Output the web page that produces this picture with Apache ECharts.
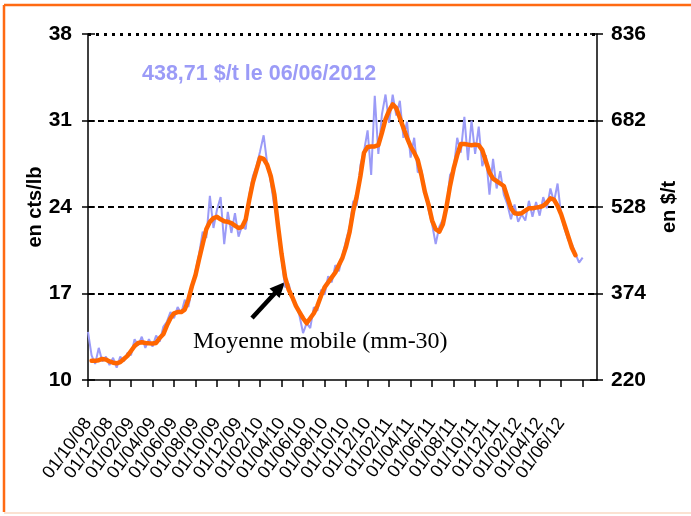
<!DOCTYPE html>
<html>
<head>
<meta charset="utf-8">
<script src="https://cdn.jsdelivr.net/npm/echarts@6/dist/echarts.min.js"></script>
<style>
html,body{margin:0;padding:0;background:#fff;}
#chart{width:691px;height:516px;}
</style>
</head>
<body>
<div id="chart"></div>
<script>
// ---- data ----
const tickLabels = ['01/10/08','01/12/08','01/02/09','01/04/09','01/06/09','01/08/09','01/10/09','01/12/09',
  '01/02/10','01/04/10','01/06/10','01/08/10','01/10/10','01/12/10','01/02/11','01/04/11','01/06/11',
  '01/08/11','01/10/11','01/12/11','01/02/12','01/04/12','01/06/12'];
const pointsPerLabel = 6;
const axisPointCount = 143;

// daily price (cts/lb), sampled
const price = [13.9,12.0,11.3,12.6,11.5,11.9,11.2,11.8,11.0,11.9,
  11.5,12.2,12.0,13.3,12.8,13.5,12.6,13.3,12.7,13.6,
  13.1,14.3,14.7,15.5,15.0,15.9,15.4,16.5,15.9,17.4,
  18.8,20.2,22.0,21.5,24.9,22.3,23.8,24.8,21.0,23.6,
  21.9,23.5,21.6,22.5,22.2,25.0,26.5,27.3,28.5,29.8,
  27.5,26.0,24.0,22.8,19.8,17.5,17.8,16.5,16.2,15.2,
  13.8,14.6,14.2,15.9,15.6,17.3,16.9,18.4,17.9,19.3,
  18.8,20.1,21.3,22.4,24.5,24.1,27.4,28.5,30.2,26.6,
  33.0,28.3,31.5,33.1,30.8,33.1,31.4,32.6,29.6,30.9,
  28.0,29.6,26.8,27.0,25.3,23.8,22.6,21.0,22.4,23.0,
  23.8,26.6,27.0,29.6,28.4,31.3,27.8,31.0,28.3,30.5,
  27.3,28.2,25.0,27.9,25.5,26.9,25.0,24.2,23.0,24.2,
  22.8,23.4,22.9,24.5,23.2,24.4,23.3,24.8,23.9,25.5,
  24.4,25.9,23.3,22.2,21.3,21.0,20.2,19.5,19.9];

// moving average mm-30 (cts/lb)
const movingAvg = [null,11.55,11.55,11.6,11.7,11.65,11.5,11.4,11.35,11.45,
  11.7,11.95,12.35,12.75,13.0,13.05,13.0,12.97,12.95,13.0,
  13.4,13.7,14.4,15.0,15.4,15.5,15.5,15.7,16.5,17.6,
  18.5,19.8,21.0,22.2,22.8,23.1,23.2,23.0,22.85,22.8,
  22.7,22.5,22.3,22.4,23.0,24.6,26.0,27.0,28.0,27.9,
  27.4,26.5,25.0,22.5,20.2,18.3,17.3,16.7,16.0,15.5,
  15.0,14.6,15.0,15.4,16.0,16.8,17.5,17.9,18.3,18.7,
  19.3,19.9,20.8,22.0,23.7,24.9,26.5,28.4,28.85,28.9,
  28.9,29.0,30.0,31.1,31.8,32.3,32.0,31.2,30.4,29.6,
  28.9,28.4,27.8,26.6,25.2,24.2,22.9,22.2,22.0,22.6,
  24.0,25.7,27.1,28.2,29.1,29.1,29.05,29.0,29.05,29.0,
  28.6,27.7,26.8,26.3,26.1,25.9,25.7,24.8,23.9,23.5,
  23.45,23.5,23.7,23.9,23.9,23.95,24.0,24.1,24.35,24.7,
  24.6,24.1,23.4,22.5,21.6,20.7,20.1];

const leftTicks = {min: 10, max: 38, step: 7};
const rightTicks = {min: 220, max: 836, step: 154};
const gridValues = [17, 24, 31];
const lastPriceText = '438,71 $/t le 06/06/2012';
const maText = 'Moyenne mobile (mm-30)';

// ---- build ----
const categories = [];
for (let i = 0; i < axisPointCount; i++) {
  const k = i / pointsPerLabel;
  categories.push(i % pointsPerLabel === 0 && k < tickLabels.length ? tickLabels[k] : 'p' + i);
}

const sans = 'Liberation Sans, Arial, sans-serif';
const black = '#000';
const gridLines = gridValues.map(v => ({yAxis: v, lineStyle: {color: black, width: 2, type: [6, 4]}}));
gridLines.push({yAxis: leftTicks.max, lineStyle: {color: black, width: 3, type: [3, 5]}});

function innerTickAxis(base, pos) {
  return {
    type: 'value', min: base.min, max: base.max, interval: base.step, position: pos,
    axisLine: {show: false}, axisLabel: {show: false}, splitLine: {show: false},
    axisTick: {show: true, inside: true, length: 7, lineStyle: {color: black, width: 1.5}}
  };
}

const chart = echarts.init(document.getElementById('chart'), null, {renderer: 'canvas'});
chart.setOption({
  animation: false,
  backgroundColor: '#ffffff',
  grid: {left: 88, right: 94, top: 34, bottom: 136},
  xAxis: {
    type: 'category',
    data: categories,
    boundaryGap: false,
    axisLine: {lineStyle: {color: black, width: 1.5}},
    axisTick: {
      length: 7, lineStyle: {color: black, width: 1.5},
      interval: (idx) => idx % pointsPerLabel === 0
    },
    axisLabel: {
      interval: 0,
      hideOverlap: false,
      showMinLabel: true,
      showMaxLabel: true,
      formatter: (v) => (v.charAt(0) === 'p' ? '' : v),
      rotate: 54, margin: 40,
      color: black, fontFamily: sans, fontSize: 18
    },
    splitLine: {show: false}
  },
  yAxis: [
    {
      type: 'value', min: leftTicks.min, max: leftTicks.max, interval: leftTicks.step,
      position: 'left',
      name: 'en cts/lb', nameLocation: 'middle', nameRotate: 90, nameGap: 43,
      nameMoveOverlap: false,
      nameTextStyle: {color: black, fontFamily: sans, fontSize: 20, fontWeight: 'bold'},
      axisLine: {show: true, lineStyle: {color: black, width: 1.5}},
      axisTick: {show: true, length: 6, lineStyle: {color: black, width: 1.5}},
      axisLabel: {color: black, fontFamily: sans, fontSize: 21, fontWeight: 'bold', margin: 16},
      splitLine: {show: false}
    },
    {
      type: 'value', min: rightTicks.min, max: rightTicks.max, interval: rightTicks.step,
      position: 'right',
      name: 'en $/t', nameLocation: 'middle', nameRotate: 90, nameGap: 62,
      nameTextStyle: {color: black, fontFamily: sans, fontSize: 20, fontWeight: 'bold'},
      axisLine: {show: true, lineStyle: {color: black, width: 1.5}},
      axisTick: {show: true, length: 6, lineStyle: {color: black, width: 1.5}},
      axisLabel: {color: black, fontFamily: sans, fontSize: 21, fontWeight: 'bold', margin: 14},
      splitLine: {show: false}
    },
    innerTickAxis(leftTicks, 'left'),
    innerTickAxis(rightTicks, 'right')
  ],
  series: [
    {
      type: 'line', name: 'prix', data: price, yAxisIndex: 0,
      showSymbol: false, symbol: 'none',
      lineStyle: {color: '#9b9bf7', width: 2}, z: 2,
      markLine: {silent: true, symbol: 'none', label: {show: false}, z: 1, data: gridLines}
    },
    {
      type: 'line', name: 'mm-30', data: movingAvg, yAxisIndex: 0,
      showSymbol: false, symbol: 'none',
      lineStyle: {color: '#ff6600', width: 4.5, join: 'round', cap: 'round'}, z: 3
    }
  ],
  graphic: [
    {type: 'line', shape: {x1: 4, y1: 5, x2: 700, y2: 5}, style: {stroke: '#ff6a13', lineWidth: 2.5}},
    {type: 'line', shape: {x1: 4, y1: 5, x2: 4, y2: 512}, style: {stroke: '#ff6a13', lineWidth: 2.5}},
    {type: 'line', shape: {x1: 4, y1: 513, x2: 700, y2: 513}, style: {stroke: '#fbe2d2', lineWidth: 2}},
    {type: 'text', left: 142, top: 63,
      style: {text: lastPriceText, fill: '#9b9bf7', font: 'bold 21.5px ' + sans}},
    {type: 'text', left: 193, top: 330,
      style: {text: maText, fill: black, font: '24px Liberation Serif, Times New Roman, serif'}},
    {type: 'line', shape: {x1: 252, y1: 318, x2: 276, y2: 292}, style: {stroke: black, lineWidth: 4.5}},
    {type: 'polygon', shape: {points: [[285, 282], [279.5, 298], [269.5, 288.5]]}, style: {fill: black}}
  ]
});
</script>
</body>
</html>
